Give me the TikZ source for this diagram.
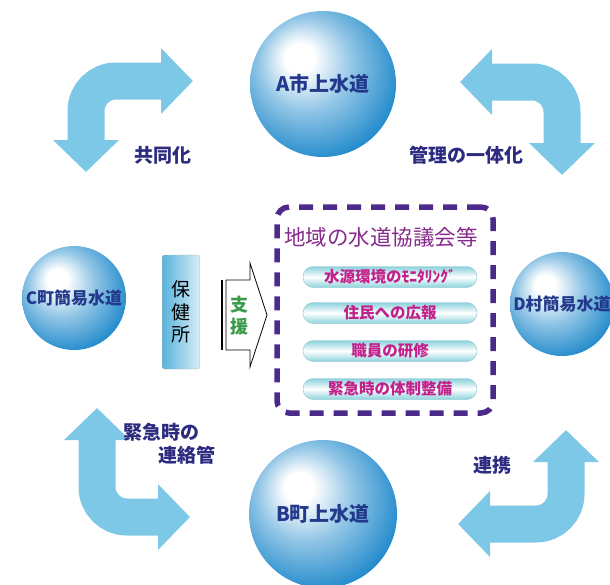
\documentclass[tikz,border=0pt]{standalone}
\usepackage{fontspec}
\usetikzlibrary{arrows.meta}
\newfontfamily\jp{Noto Sans CJK JP}
\definecolor{spherecolor}{RGB}{36,140,204}
\definecolor{circletext}{RGB}{35,58,140}
\definecolor{bendcolor}{RGB}{124,200,230}
\definecolor{labelcolor}{RGB}{45,43,128}
\definecolor{councilcolor}{RGB}{75,42,140}
\definecolor{titlecolor}{RGB}{134,42,140}
\definecolor{itemcolor}{RGB}{194,32,138}
\definecolor{pillcolor}{RGB}{140,210,220}
\definecolor{hccolor}{RGB}{90,180,220}
\definecolor{supportcolor}{RGB}{58,154,74}
\pgfdeclareradialshading{sphere}{\pgfpoint{-9bp}{10bp}}{color(0bp)=(white); color(5bp)=(white); color(16bp)=(spherecolor!50!white); color(30bp)=(spherecolor); color(40bp)=(spherecolor!85!black); color(50bp)=(spherecolor!85!black)}

\begin{document}
\begin{tikzpicture}[x=1pt,y=-1pt]
	\tikzstyle{ball} = [circle, shading=sphere, inner sep=0pt, text=circletext, font=\jp\bfseries\fontsize{17}{17}\selectfont]
	\tikzstyle{bentarrow} = [draw=bendcolor, line width=37pt, rounded corners=30pt, {Triangle[length=32pt,width=64pt]}-{Triangle[length=32pt,width=64pt]}]
	\tikzstyle{tag} = [text=labelcolor, font=\jp\bfseries\fontsize{19}{19}\selectfont, inner sep=0pt]
	\tikzstyle{item} = [rectangle, rounded corners=10.5pt, minimum width=174pt, minimum height=21pt, top color=pillcolor, bottom color=pillcolor, middle color=white, draw=pillcolor!80!gray, text=itemcolor, font=\jp\bfseries\fontsize{15.5}{15.5}\selectfont, inner sep=0pt]
	\useasboundingbox (0,0) rectangle (610,584);

	% water suppliers
	\node[ball, minimum size=146pt, font=\jp\bfseries\fontsize{20}{20}\selectfont] (A) at (323,84) {A市上水道};
	\node[ball, minimum size=148pt, font=\jp\bfseries\fontsize{20}{20}\selectfont] (B) at (323,514) {B町上水道};
	\node[ball, minimum size=104pt] (C) at (74,298) {C町簡易水道};
	\node[ball, minimum size=104pt] (D) at (562,304) {D村簡易水道};

	% bent arrows
	\coordinate (tl_s) at (86,172);
	\coordinate (tl_e) at (193,81);
	\coordinate (tr_s) at (460,82);
	\coordinate (tr_e) at (562,175);
	\coordinate (bl_s) at (97,408);
	\coordinate (bl_e) at (190,517);
	\coordinate (br_s) at (566,430);
	\coordinate (br_e) at (458,524);
	\draw[bentarrow] (tl_s) |- (tl_e);
	\draw[bentarrow] (tr_s) -| (tr_e);
	\draw[bentarrow] (bl_s) |- (bl_e);
	\draw[bentarrow] (br_s) |- (br_e);

	\node[tag] (share) at (163,155) {共同化};
	\node[tag] (unify) at (466,155) {管理の一体化};
	\node[tag, anchor=west] (pipe1) at (123,432) {緊急時の};
	\node[tag, anchor=west] (pipe2) at (158,455) {連絡管};
	\node[tag] (link) at (492,465) {連携};

	% council
	\node[draw=councilcolor, line width=5.5pt, dash pattern=on 14pt off 10pt, rounded corners=12pt, minimum width=216pt, minimum height=206pt, inner sep=0pt] (council) at (385,310) {};
	\node[text=titlecolor, font=\jp\fontsize{21.5}{21.5}\selectfont, inner sep=0pt] (title) at (381,237) {地域の水道協議会等};
	\node[item] (p1) at (390,277) {水源環境のﾓﾆﾀﾘﾝｸﾞ};
	\node[item] (p2) at (390,313) {住民への広報};
	\node[item] (p3) at (390,351) {職員の研修};
	\node[item] (p4) at (390,389) {緊急時の体制整備};

	% health centre and support
	\node[draw=gray!60, rounded corners=2pt, left color=hccolor, right color=hccolor!25!white, minimum width=37pt, minimum height=114pt, inner sep=0pt, align=center, font=\jp\fontsize{19}{22.5}\selectfont] (hc) at (181,312) {保\\健\\所};
	\draw[line width=1.8pt] (222,280) -- (222,350);
	\draw[fill=white, line width=0.8pt] (226,280) -- (250,280) -- (250,263) -- (267,315) -- (250,367) -- (250,350) -- (226,350) -- cycle;
	\node[text=supportcolor, align=center, inner sep=0pt, font=\jp\bfseries\fontsize{18}{22}\selectfont] (support) at (239,316) {支\\援};
\end{tikzpicture}
\end{document}
